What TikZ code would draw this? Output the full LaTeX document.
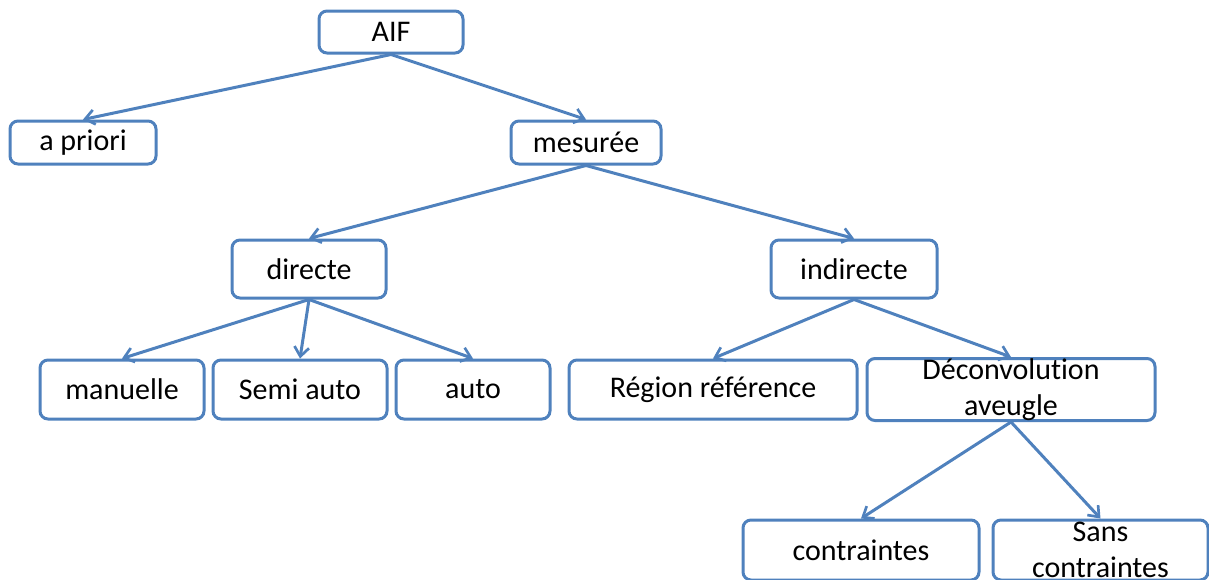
\documentclass[tikz,border=0pt]{standalone}
\usepackage{fontspec}
\setmainfont{Carlito}[Ligatures=NoCommon]
\usetikzlibrary{arrows.meta}

\begin{document}
\begin{tikzpicture}[x=0.75pt,y=0.75pt,yscale=-1,xscale=1,
  box/.style={draw={rgb, 255:red, 79; green, 129; blue, 189 },line width=2.25pt,rounded corners=6pt,fill=white,
    inner sep=0pt,minimum height=44.25pt,align=center,font=\fontsize{22.5}{27}\selectfont},
  link/.style={draw={rgb, 255:red, 79; green, 129; blue, 189 },line width=2.25pt,-{Straight Barb[length=7pt,width=11pt,line width=2pt]}}]
%set diagram size
\useasboundingbox (0,0) rectangle (1209,579);

% Text Node
\draw (391,32) node [box,minimum width=108pt,minimum height=31.5pt] (aif) {AIF};
% Text Node
\draw (83,142.5) node [box,minimum width=109.5pt,minimum height=32.25pt] (apriori) {a priori};
% Text Node
\draw (586,142.5) node [box,minimum width=112.5pt,minimum height=32.25pt] (mesuree) {mesurée};
% Text Node
\draw (309,269) node [box,minimum width=115.5pt,minimum height=43.5pt] (directe) {directe};
% Text Node
\draw (854,269) node [box,minimum width=124.5pt,minimum height=43.5pt] (indirecte) {indirecte};
% Text Node
\draw (122,389.5) node [box,minimum width=123pt] (manuelle) {manuelle};
% Text Node
\draw (300,389.5) node [box,minimum width=130.5pt] (semiauto) {Semi auto};
% Text Node
\draw (473,389.5) node [box,minimum width=115.5pt] (auto) {auto};
% Text Node
\draw (713,389.5) node [box,minimum width=216pt] (region) {Région référence};
% Text Node
\draw (1011,389.5) node [box,minimum width=216pt] (deconv) {Déconvolution\\aveugle};
% Text Node
\draw (861,550) node [box,minimum width=177pt,minimum height=45pt] (contraintes) {contraintes};
% Text Node
\draw (1100.5,550) node [box,minimum width=161.25pt,minimum height=45pt] (sanscontr) {Sans\\contraintes};

%Straight Lines
\draw [link] (aif.south) -- (apriori.north);
\draw [link] (aif.south) -- (mesuree.north);
\draw [link] (mesuree.south) -- (directe.north);
\draw [link] (mesuree.south) -- (indirecte.north);
\draw [link] (directe.south) -- (manuelle.north);
\draw [link] (directe.south) -- (semiauto.north);
\draw [link] (directe.south) -- (auto.north);
\draw [link] (indirecte.south) -- (region.north);
\draw [link] (indirecte.south) -- (deconv.north);
\draw [link] (deconv.south) -- (contraintes.north);
\draw [link] (deconv.south) -- (sanscontr.north);

\end{tikzpicture}
\end{document}
